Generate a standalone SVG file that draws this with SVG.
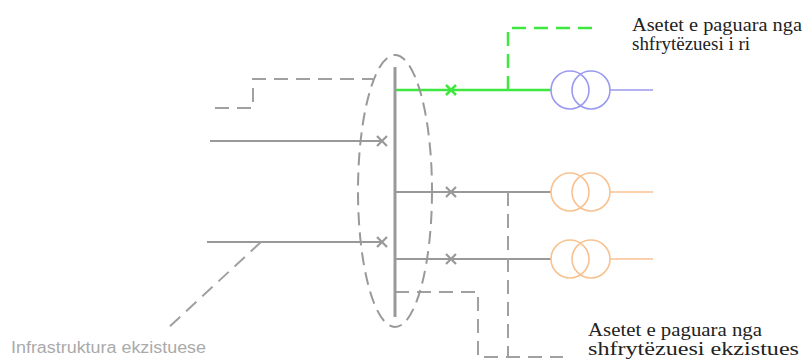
<svg xmlns="http://www.w3.org/2000/svg" width="806" height="363" viewBox="0 0 806 363">
<style>
.g{stroke:#999;stroke-width:2;fill:none}
.bus{stroke:#999;stroke-width:3;fill:none}
.gd{stroke:#a0a0a0;stroke-width:2;fill:none;stroke-dasharray:14 8}
.grn{stroke:#3ee83e;stroke-width:2.5;fill:none}
.grnd{stroke:#3ee83e;stroke-width:2.5;fill:none;stroke-dasharray:14 8}
.blue{stroke:#9a9af0;stroke-width:1.6;fill:none}
.org{stroke:#f8c290;stroke-width:1.6;fill:none}
.lbl{font-family:"Liberation Serif","Times New Roman",serif;font-size:18px;fill:#222}
.lbl2{font-family:"Liberation Sans",Arial,sans-serif;font-size:16px;fill:#aaa}
</style>
<defs>
<g id="xg"><path d="M-5,-5L5,5M-5,5L5,-5" stroke="#999" stroke-width="2.2"/></g>
<g id="xgr"><path d="M-5,-5L5,5M-5,5L5,-5" stroke="#3ee83e" stroke-width="2.5"/></g>
</defs>
<g id="connectors">
<path class="gd" d="M215,108H253V79H373"/>
<line class="g" x1="210" y1="141" x2="382" y2="141"/>
<line class="g" x1="207" y1="242" x2="382" y2="242"/>
<path class="gd" d="M261,242L168,328"/>
<line class="grn" x1="395" y1="90" x2="551" y2="90"/>
<path class="grnd" d="M508,90V28H593"/>
<line class="g" x1="395" y1="192" x2="551" y2="192"/>
<line class="g" x1="395" y1="259" x2="551" y2="259"/>
<path class="gd" d="M508,192V357"/>
<path class="gd" d="M395,292H478V357H563"/>
</g>
<g id="bus">
<line class="bus" x1="395" y1="67" x2="395" y2="317"/>
<ellipse cx="395" cy="191" rx="37" ry="136" fill="none" stroke="#999" stroke-width="2" stroke-dasharray="13 7"/>
</g>
<g id="switches">
<use href="#xg" x="382" y="141"/>
<use href="#xg" x="382" y="242"/>
<use href="#xgr" x="451" y="90"/>
<use href="#xg" x="451" y="192"/>
<use href="#xg" x="451" y="259"/>
</g>
<g id="tr-new">
<circle class="blue" cx="570" cy="90" r="19"/>
<circle class="blue" cx="591" cy="90" r="19"/>
<line class="blue" x1="610" y1="90" x2="653" y2="90"/>
</g>
<g id="tr-exist1">
<circle class="org" cx="570" cy="192" r="19"/>
<circle class="org" cx="591" cy="192" r="19"/>
<line class="org" x1="610" y1="192" x2="653" y2="192"/>
</g>
<g id="tr-exist2">
<circle class="org" cx="570" cy="259" r="19"/>
<circle class="org" cx="591" cy="259" r="19"/>
<line class="org" x1="610" y1="259" x2="653" y2="259"/>
</g>
<g id="label-new">
<text class="lbl" x="632" y="31" textLength="170" lengthAdjust="spacingAndGlyphs">Asetet e paguara nga</text>
<text class="lbl" x="632" y="50" textLength="118" lengthAdjust="spacingAndGlyphs">shfrytëzuesi i ri</text>
</g>
<g id="label-exist">
<text class="lbl" x="588" y="336" textLength="174" lengthAdjust="spacingAndGlyphs">Asetet e paguara nga</text>
<text class="lbl" x="588" y="355" textLength="211" lengthAdjust="spacingAndGlyphs">shfrytëzuesi ekzistues</text>
</g>
<g id="label-infra">
<text class="lbl2" x="11" y="353" textLength="195" lengthAdjust="spacingAndGlyphs">Infrastruktura ekzistuese</text>
</g>
</svg>
